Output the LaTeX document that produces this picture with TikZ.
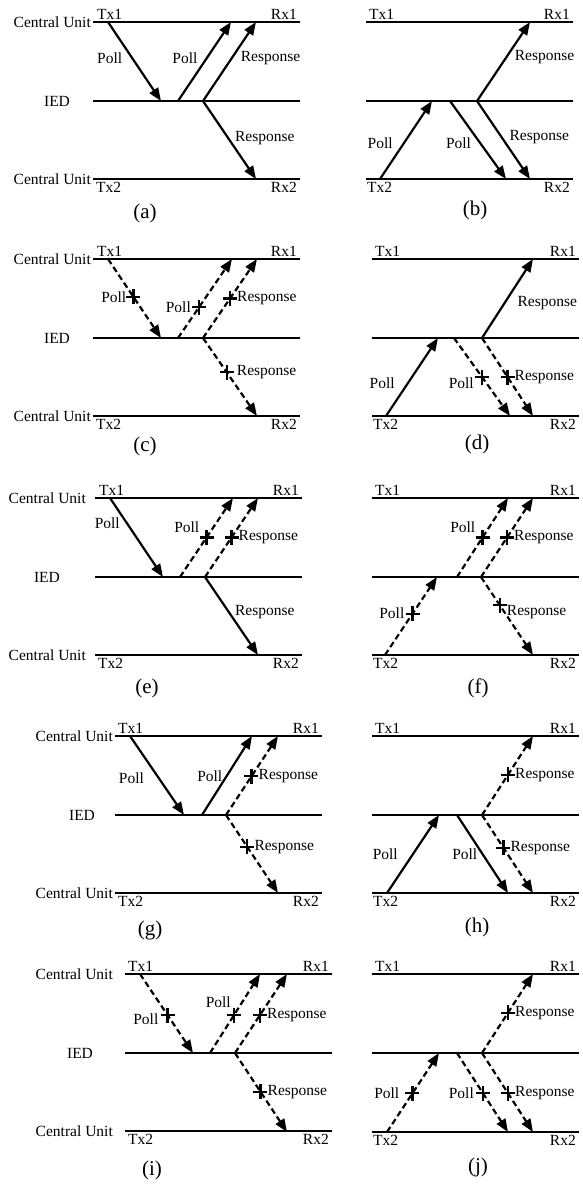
\documentclass[tikz,border=0pt]{standalone}
\usepackage{fontspec}
\setmainfont{Liberation Serif}
\usetikzlibrary{arrows.meta,positioning}

\begin{document}
\begin{tikzpicture}[x=1pt,y=-1pt,font=\fontsize{15.5}{18}\selectfont,
  bus/.style={line width=1.8pt},
  msg/.style={line width=2.2pt,-{Triangle[length=13pt,width=10pt]}},
  lost/.style={msg,dash pattern=on 6pt off 3.5pt},
  hop/.style={line width=2.2pt},
  hoplost/.style={hop,dash pattern=on 6pt off 3.5pt},
  lbl/.style={inner sep=1pt},
  figcap/.style={font=\fontsize{21}{24}\selectfont},
  drop/.pic={\draw[solid,line width=2.2pt] (-7,0) -- (7,0) (0,-7.5) -- (0,7.5);}]
  \useasboundingbox (0,0) rectangle (583,1184);

  % (a)
  \begin{scope}[shift={(93,22)}]
    \draw[bus] (0,0) -- (207,0);
    \draw[bus] (0,79) -- (207,79);
    \draw[bus] (0,157) -- (207,157);
    \node[lbl,anchor=east] (a-cu1) at (-1,0) {Central Unit};
    \node[lbl] (a-ied) at (-36,79) {IED};
    \node[lbl,anchor=east] (a-cu2) at (-1,157) {Central Unit};
    \node[lbl,anchor=south west] (a-tx1) at (3,-1) {Tx1};
    \node[lbl,anchor=south east] (a-rx1) at (205,-1) {Rx1};
    \node[lbl,anchor=north west] (a-tx2) at (2,159) {Tx2};
    \node[lbl,anchor=north east] (a-rx2) at (205,159) {Rx2};
    \coordinate (a-s) at (15,0); \coordinate (a-i1) at (68,79); \coordinate (a-i2) at (85,79);
    \coordinate (a-e) at (138,0); \coordinate (a-r) at (110,79);
    \coordinate (a-r1) at (163,0); \coordinate (a-r2) at (163,157);
    \draw[msg] (a-s) -- (a-i1) coordinate[pos=.46] (a-m1);
    \draw[hop] (a-i1) -- (a-i2);
    \draw[msg] (a-i2) -- (a-e) coordinate[pos=.54] (a-m2);
    \draw[msg] (a-r) -- (a-r1) coordinate[pos=.54] (a-m3);
    \draw[msg] (a-r) -- (a-r2) coordinate[pos=.47] (a-m4);
    \node[lbl,left=9pt of a-m1] (a-l1) {Poll};
    \node[lbl,left=8pt of a-m2] (a-l2) {Poll};
    \node[lbl,right=8pt of a-m3] (a-l3) {Response};
    \node[lbl,right=6pt of a-m4] (a-l4) {Response};
    \node[figcap] (a-cap) at (52,191) {(a)};
  \end{scope}

  % (b)
  \begin{scope}[shift={(366,22)}]
    \draw[bus] (0,0) -- (207,0);
    \draw[bus] (0,79) -- (207,79);
    \draw[bus] (0,157) -- (207,157);
    \node[lbl,anchor=south west] (b-tx1) at (2,-1) {Tx1};
    \node[lbl,anchor=south east] (b-rx1) at (205,-1) {Rx1};
    \node[lbl,anchor=north west] (b-tx2) at (0,159) {Tx2};
    \node[lbl,anchor=north east] (b-rx2) at (205,159) {Rx2};
    \coordinate (b-s) at (14,157); \coordinate (b-i1) at (66,79); \coordinate (b-i2) at (84,79);
    \coordinate (b-e) at (140,157); \coordinate (b-r) at (111,79);
    \coordinate (b-r1) at (164,0); \coordinate (b-r2) at (164,157);
    \draw[msg] (b-s) -- (b-i1) coordinate[pos=.46] (b-m1);
    \draw[hop] (b-i1) -- (b-i2);
    \draw[msg] (b-i2) -- (b-e) coordinate[pos=.54] (b-m2);
    \draw[msg] (b-r) -- (b-r1) coordinate[pos=.56] (b-m3);
    \draw[msg] (b-r) -- (b-r2) coordinate[pos=.46] (b-m4);
    \node[lbl,left=10pt of b-m1] (b-l1) {Poll};
    \node[lbl,left=8pt of b-m2] (b-l2) {Poll};
    \node[lbl,right=7pt of b-m3] (b-l3) {Response};
    \node[lbl,right=7pt of b-m4] (b-l4) {Response};
    \node[figcap] (b-cap) at (109,188) {(b)};
  \end{scope}

  % (c)
  \begin{scope}[shift={(93,259)}]
    \draw[bus] (0,0) -- (207,0);
    \draw[bus] (0,79) -- (207,79);
    \draw[bus] (0,157) -- (207,157);
    \node[lbl,anchor=east] (c-cu1) at (-1,0) {Central Unit};
    \node[lbl] (c-ied) at (-36,79) {IED};
    \node[lbl,anchor=east] (c-cu2) at (-1,157) {Central Unit};
    \node[lbl,anchor=south west] (c-tx1) at (3,-1) {Tx1};
    \node[lbl,anchor=south east] (c-rx1) at (205,-1) {Rx1};
    \node[lbl,anchor=north west] (c-tx2) at (2,159) {Tx2};
    \node[lbl,anchor=north east] (c-rx2) at (205,159) {Rx2};
    \coordinate (c-s) at (15,0); \coordinate (c-i1) at (68,79); \coordinate (c-i2) at (85,79);
    \coordinate (c-e) at (139,0); \coordinate (c-r) at (110,79);
    \coordinate (c-r1) at (164,0); \coordinate (c-r2) at (164,157);
    \draw[lost] (c-s) -- (c-i1) coordinate[pos=.48] (c-m1);
    \draw[hoplost] (c-i1) -- (c-i2);
    \draw[lost] (c-i2) -- (c-e) coordinate[pos=.39] (c-m2);
    \draw[lost] (c-r) -- (c-r1) coordinate[pos=.5] (c-m3);
    \draw[lost] (c-r) -- (c-r2) coordinate[pos=.44] (c-m4);
    \pic at (c-m1) {drop}; \pic at (c-m2) {drop}; \pic at (c-m3) {drop}; \pic at (c-m4) {drop};
    \node[lbl,left=6pt of c-m1] (c-l1) {Poll};
    \node[lbl,left=7pt of c-m2] (c-l2) {Poll};
    \node[lbl,right=6pt of c-m3] (c-l3) {Response};
    \node[lbl,right=9pt of c-m4] (c-l4) {Response};
    \node[figcap] (c-cap) at (52,187) {(c)};
  \end{scope}

  % (d)
  \begin{scope}[shift={(372,259)}]
    \draw[bus] (0,0) -- (207,0);
    \draw[bus] (0,79) -- (207,79);
    \draw[bus] (0,157) -- (207,157);
    \node[lbl,anchor=south west] (d-tx1) at (2,-1) {Tx1};
    \node[lbl,anchor=south east] (d-rx1) at (205,-1) {Rx1};
    \node[lbl,anchor=north west] (d-tx2) at (0,159) {Tx2};
    \node[lbl,anchor=north east] (d-rx2) at (205,159) {Rx2};
    \coordinate (d-s) at (14,157); \coordinate (d-i1) at (66,79); \coordinate (d-i2) at (82,79);
    \coordinate (d-e) at (138,157); \coordinate (d-r) at (110,79);
    \coordinate (d-r1) at (161,0); \coordinate (d-r2) at (161,157);
    \draw[msg] (d-s) -- (d-i1) coordinate[pos=.42] (d-m1);
    \draw[hoplost] (d-i1) -- (d-i2);
    \draw[lost] (d-i2) -- (d-e) coordinate[pos=.5] (d-m2);
    \draw[msg] (d-r) -- (d-r1) coordinate[pos=.44] (d-m3);
    \draw[lost] (d-r) -- (d-r2) coordinate[pos=.5] (d-m4);
    \pic at (d-m2) {drop}; \pic at (d-m4) {drop};
    \node[lbl,left=12pt of d-m1] (d-l1) {Poll};
    \node[lbl,left=7pt of d-m2,yshift=-6pt] (d-l2) {Poll};
    \node[lbl,right=12pt of d-m3] (d-l3) {Response};
    \node[lbl,right=6pt of d-m4] (d-l4) {Response};
    \node[figcap] (d-cap) at (105,185) {(d)};
  \end{scope}

  % (e)
  \begin{scope}[shift={(95,498)}]
    \draw[bus] (0,0) -- (207,0);
    \draw[bus] (0,79) -- (207,79);
    \draw[bus] (0,157) -- (207,157);
    \node[lbl,anchor=east] (e-cu1) at (-8,0) {Central Unit};
    \node[lbl] (e-ied) at (-48,79) {IED};
    \node[lbl,anchor=east] (e-cu2) at (-8,157) {Central Unit};
    \node[lbl,anchor=south west] (e-tx1) at (3,-1) {Tx1};
    \node[lbl,anchor=south east] (e-rx1) at (205,-1) {Rx1};
    \node[lbl,anchor=north west] (e-tx2) at (2,159) {Tx2};
    \node[lbl,anchor=north east] (e-rx2) at (205,159) {Rx2};
    \coordinate (e-s) at (15,0); \coordinate (e-i1) at (68,79); \coordinate (e-i2) at (85,79);
    \coordinate (e-e) at (138,0); \coordinate (e-r) at (110,79);
    \coordinate (e-r1) at (163,0); \coordinate (e-r2) at (163,157);
    \draw[msg] (e-s) -- (e-i1) coordinate[pos=.32] (e-m1);
    \draw[hoplost] (e-i1) -- (e-i2);
    \draw[lost] (e-i2) -- (e-e) coordinate[pos=.5] (e-m2);
    \draw[lost] (e-r) -- (e-r1) coordinate[pos=.5] (e-m3);
    \draw[msg] (e-r) -- (e-r2) coordinate[pos=.45] (e-m4);
    \pic at (e-m2) {drop}; \pic at (e-m3) {drop};
    \node[lbl,left=6pt of e-m1] (e-l1) {Poll};
    \node[lbl,above left=4pt and 6pt of e-m2] (e-l2) {Poll};
    \node[lbl,right=6pt of e-m3] (e-l3) {Response};
    \node[lbl,right=5pt of e-m4] (e-l4) {Response};
    \node[figcap] (e-cap) at (52,190) {(e)};
  \end{scope}

  % (f)
  \begin{scope}[shift={(372,498)}]
    \draw[bus] (0,0) -- (207,0);
    \draw[bus] (0,79) -- (207,79);
    \draw[bus] (0,157) -- (207,157);
    \node[lbl,anchor=south west] (f-tx1) at (2,-1) {Tx1};
    \node[lbl,anchor=south east] (f-rx1) at (205,-1) {Rx1};
    \node[lbl,anchor=north west] (f-tx2) at (0,159) {Tx2};
    \node[lbl,anchor=north east] (f-rx2) at (205,159) {Rx2};
    \coordinate (f-s) at (13,157); \coordinate (f-i1) at (65,79); \coordinate (f-i2) at (85,79);
    \coordinate (f-e) at (136,0); \coordinate (f-r) at (109,79);
    \coordinate (f-r1) at (161,0); \coordinate (f-r2) at (161,157);
    \draw[lost] (f-s) -- (f-i1) coordinate[pos=.53] (f-m1);
    \draw[hoplost] (f-i1) -- (f-i2);
    \draw[lost] (f-i2) -- (f-e) coordinate[pos=.5] (f-m2);
    \draw[lost] (f-r) -- (f-r1) coordinate[pos=.5] (f-m3);
    \draw[lost] (f-r) -- (f-r2) coordinate[pos=.36] (f-m4);
    \pic at (f-m1) {drop}; \pic at (f-m2) {drop}; \pic at (f-m3) {drop}; \pic at (f-m4) {drop};
    \node[lbl,left=7pt of f-m1] (f-l1) {Poll};
    \node[lbl,above left=4pt and 6pt of f-m2] (f-l2) {Poll};
    \node[lbl,right=6pt of f-m3] (f-l3) {Response};
    \node[lbl,right=6pt of f-m4,yshift=-7pt] (f-l4) {Response};
    \node[figcap] (f-cap) at (106,190) {(f)};
  \end{scope}

  % (g)
  \begin{scope}[shift={(115,736)}]
    \draw[bus] (0,0) -- (207,0);
    \draw[bus] (0,79) -- (207,79);
    \draw[bus] (0,157) -- (207,157);
    \node[lbl,anchor=east] (g-cu1) at (-1,0) {Central Unit};
    \node[lbl] (g-ied) at (-33,79) {IED};
    \node[lbl,anchor=east] (g-cu2) at (-1,157) {Central Unit};
    \node[lbl,anchor=south west] (g-tx1) at (2,-1) {Tx1};
    \node[lbl,anchor=south east] (g-rx1) at (205,-1) {Rx1};
    \node[lbl,anchor=north west] (g-tx2) at (2,159) {Tx2};
    \node[lbl,anchor=north east] (g-rx2) at (205,159) {Rx2};
    \coordinate (g-s) at (15,0); \coordinate (g-i1) at (69,79); \coordinate (g-i2) at (87,79);
    \coordinate (g-e) at (137,0); \coordinate (g-r) at (111,79);
    \coordinate (g-r1) at (163,0); \coordinate (g-r2) at (163,157);
    \draw[msg] (g-s) -- (g-i1) coordinate[pos=.54] (g-m1);
    \draw[hop] (g-i1) -- (g-i2);
    \draw[msg] (g-i2) -- (g-e) coordinate[pos=.49] (g-m2);
    \draw[lost] (g-r) -- (g-r1) coordinate[pos=.49] (g-m3);
    \draw[lost] (g-r) -- (g-r2) coordinate[pos=.41] (g-m4);
    \pic at (g-m3) {drop}; \pic at (g-m4) {drop};
    \node[lbl,left=14pt of g-m1] (g-l1) {Poll};
    \node[lbl,left=3pt of g-m2] (g-l2) {Poll};
    \node[lbl,right=6pt of g-m3] (g-l3) {Response};
    \node[lbl,right=6pt of g-m4] (g-l4) {Response};
    \node[figcap] (g-cap) at (35,194) {(g)};
  \end{scope}

  % (h)
  \begin{scope}[shift={(372,736)}]
    \draw[bus] (0,0) -- (207,0);
    \draw[bus] (0,79) -- (207,79);
    \draw[bus] (0,157) -- (207,157);
    \node[lbl,anchor=south west] (h-tx1) at (2,-1) {Tx1};
    \node[lbl,anchor=south east] (h-rx1) at (205,-1) {Rx1};
    \node[lbl,anchor=north west] (h-tx2) at (0,159) {Tx2};
    \node[lbl,anchor=north east] (h-rx2) at (205,159) {Rx2};
    \coordinate (h-s) at (15,157); \coordinate (h-i1) at (67,79); \coordinate (h-i2) at (85,79);
    \coordinate (h-e) at (136,157); \coordinate (h-r) at (110,79);
    \coordinate (h-r1) at (161,0); \coordinate (h-r2) at (161,157);
    \draw[msg] (h-s) -- (h-i1) coordinate[pos=.5] (h-m1);
    \draw[hop] (h-i1) -- (h-i2);
    \draw[msg] (h-i2) -- (h-e) coordinate[pos=.5] (h-m2);
    \draw[lost] (h-r) -- (h-r1) coordinate[pos=.51] (h-m3);
    \draw[lost] (h-r) -- (h-r2) coordinate[pos=.42] (h-m4);
    \pic at (h-m3) {drop}; \pic at (h-m4) {drop};
    \node[lbl,left=14pt of h-m1] (h-l1) {Poll};
    \node[lbl,left=4pt of h-m2] (h-l2) {Poll};
    \node[lbl,right=6pt of h-m3] (h-l3) {Response};
    \node[lbl,right=6pt of h-m4] (h-l4) {Response};
    \node[figcap] (h-cap) at (105,191) {(h)};
  \end{scope}

  % (i)
  \begin{scope}[shift={(125,974)}]
    \draw[bus] (0,0) -- (207,0);
    \draw[bus] (0,79) -- (207,79);
    \draw[bus] (0,157) -- (207,157);
    \node[lbl,anchor=east] (i-cu1) at (-11,0) {Central Unit};
    \node[lbl] (i-ied) at (-45,79) {IED};
    \node[lbl,anchor=east] (i-cu2) at (-11,157) {Central Unit};
    \node[lbl,anchor=south west] (i-tx1) at (2,-1) {Tx1};
    \node[lbl,anchor=south east] (i-rx1) at (205,-1) {Rx1};
    \node[lbl,anchor=north west] (i-tx2) at (2,159) {Tx2};
    \node[lbl,anchor=north east] (i-rx2) at (205,159) {Rx2};
    \coordinate (i-s) at (15,0); \coordinate (i-i1) at (68,79); \coordinate (i-i2) at (85,79);
    \coordinate (i-e) at (135,0); \coordinate (i-r) at (110,79);
    \coordinate (i-r1) at (162,0); \coordinate (i-r2) at (162,158);
    \draw[lost] (i-s) -- (i-i1) coordinate[pos=.52] (i-m1);
    \draw[hoplost] (i-i1) -- (i-i2);
    \draw[lost] (i-i2) -- (i-e) coordinate[pos=.48] (i-m2);
    \draw[lost] (i-r) -- (i-r1) coordinate[pos=.48] (i-m3);
    \draw[lost] (i-r) -- (i-r2) coordinate[pos=.49] (i-m4);
    \pic at (i-m1) {drop}; \pic at (i-m2) {drop}; \pic at (i-m3) {drop}; \pic at (i-m4) {drop};
    \node[lbl,left=8pt of i-m1,yshift=-4pt] (i-l1) {Poll};
    \node[lbl,above left=6pt and 2pt of i-m2] (i-l2) {Poll};
    \node[lbl,right=6pt of i-m3] (i-l3) {Response};
    \node[lbl,right=6pt of i-m4] (i-l4) {Response};
    \node[figcap] (i-cap) at (27,196) {(i)};
  \end{scope}

  % (j)
  \begin{scope}[shift={(372,974)}]
    \draw[bus] (0,0) -- (207,0);
    \draw[bus] (0,79) -- (207,79);
    \draw[bus] (0,158) -- (207,158);
    \node[lbl,anchor=south west] (j-tx1) at (2,-1) {Tx1};
    \node[lbl,anchor=south east] (j-rx1) at (205,-1) {Rx1};
    \node[lbl,anchor=north west] (j-tx2) at (0,160) {Tx2};
    \node[lbl,anchor=north east] (j-rx2) at (205,160) {Rx2};
    \coordinate (j-s) at (15,158); \coordinate (j-i1) at (67,79); \coordinate (j-i2) at (85,79);
    \coordinate (j-e) at (136,158); \coordinate (j-r) at (110,79);
    \coordinate (j-r1) at (161,0); \coordinate (j-r2) at (161,158);
    \draw[lost] (j-s) -- (j-i1) coordinate[pos=.49] (j-m1);
    \draw[hoplost] (j-i1) -- (j-i2);
    \draw[lost] (j-i2) -- (j-e) coordinate[pos=.51] (j-m2);
    \draw[lost] (j-r) -- (j-r1) coordinate[pos=.51] (j-m3);
    \draw[lost] (j-r) -- (j-r2) coordinate[pos=.51] (j-m4);
    \pic at (j-m1) {drop}; \pic at (j-m2) {drop}; \pic at (j-m3) {drop}; \pic at (j-m4) {drop};
    \node[lbl,left=12pt of j-m1] (j-l1) {Poll};
    \node[lbl,left=8pt of j-m2] (j-l2) {Poll};
    \node[lbl,right=6pt of j-m3] (j-l3) {Response};
    \node[lbl,right=6pt of j-m4] (j-l4) {Response};
    \node[figcap] (j-cap) at (106,193) {(j)};
  \end{scope}
\end{tikzpicture}
\end{document}
